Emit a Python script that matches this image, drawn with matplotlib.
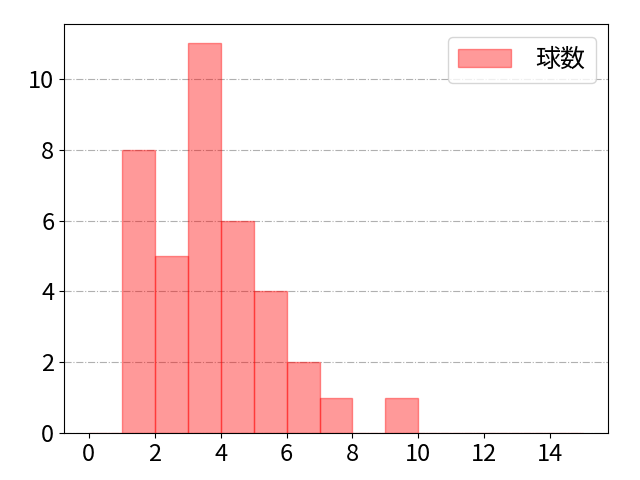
import matplotlib
matplotlib.use("Agg")
import matplotlib.pyplot as plt
import numpy as np

plt.rcParams['font.family'] = ['Noto Sans CJK JP', 'DejaVu Sans']

bin_edges = list(range(0, 16))
counts = [0, 8, 5, 11, 6, 4, 2, 1, 0, 1, 0, 0, 0, 0, 0]
xticks = list(range(0, 15, 2))
label = '球数'

fig, ax = plt.subplots(figsize=(6.4, 4.8), dpi=100)
ax.hist(bin_edges[:-1], bins=bin_edges, weights=counts, color='red', alpha=0.4,
        edgecolor='red', label=label)
ax.set_xticks(xticks)
ax.yaxis.grid(True, linestyle='-.', color='#b0b0b0', linewidth=0.8)
ax.set_axisbelow(True)
ax.tick_params(labelsize=17)
ax.legend(fontsize=18, handlelength=2.1, handletextpad=1.0)
fig.subplots_adjust(left=64/640, right=608/640, top=1-24/480, bottom=1-433/480)
fig.savefig('out.png')
